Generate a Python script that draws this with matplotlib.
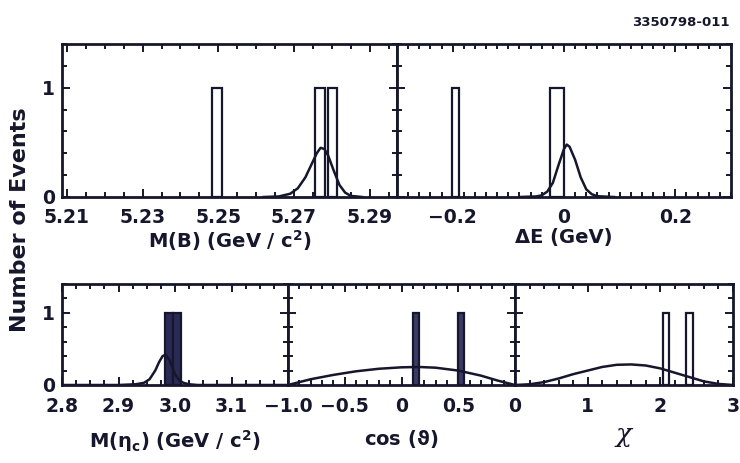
import matplotlib
matplotlib.use("Agg")
import matplotlib.pyplot as plt
from matplotlib.ticker import FixedLocator, MultipleLocator

# ---------------------------------------------------------
# data
# ---------------------------------------------------------
# M(B) panel
mb_bar_x = [5.2497, 5.2769, 5.2802]
mb_bar_h = [1, 1, 1]
mb_bar_w = [0.0025, 0.0025, 0.0025]
mb_fit_x = [5.262, 5.266, 5.269, 5.271, 5.273, 5.2745, 5.276, 5.277, 5.278, 5.279, 5.2805, 5.282, 5.2835, 5.285, 5.288]
mb_fit_y = [0.0, 0.005, 0.03, 0.08, 0.18, 0.29, 0.40, 0.45, 0.44, 0.38, 0.24, 0.11, 0.04, 0.01, 0.0]

# Delta E panel
de_bar_x = [-0.195, -0.013]
de_bar_h = [1, 1]
de_bar_w = [0.014, 0.026]
de_fit_x = [-0.08, -0.05, -0.04, -0.03, -0.02, -0.01, 0.0, 0.005, 0.01, 0.02, 0.03, 0.04, 0.05, 0.06, 0.09]
de_fit_y = [0.0, 0.005, 0.015, 0.05, 0.13, 0.29, 0.44, 0.48, 0.46, 0.34, 0.18, 0.07, 0.025, 0.007, 0.0]

# M(eta_c) panel
eta_bar_x = [2.989, 3.003]
eta_bar_h = [1, 1]
eta_bar_w = [0.014, 0.014]
eta_fit_x = [2.80, 2.90, 2.93, 2.945, 2.955, 2.965, 2.972, 2.978, 2.983, 2.99, 2.995, 3.0, 3.008, 3.015, 3.025, 3.04, 3.20]
eta_fit_y = [0.0, 0.0, 0.01, 0.03, 0.08, 0.2, 0.32, 0.40, 0.42, 0.35, 0.25, 0.15, 0.06, 0.03, 0.01, 0.0, 0.0]

# cos(theta) panel
cos_bar_x = [0.128, 0.524]
cos_bar_h = [1, 1]
cos_bar_w = [0.06, 0.06]
cos_fit_x = [-1.0, -0.9, -0.8, -0.6, -0.4, -0.2, 0.0, 0.15, 0.3, 0.5, 0.7, 0.85, 0.95, 1.0]
cos_fit_y = [0.0, 0.04, 0.08, 0.14, 0.19, 0.225, 0.245, 0.25, 0.24, 0.2, 0.13, 0.06, 0.02, 0.0]

# chi panel
chi_bar_x = [2.08, 2.40]
chi_bar_h = [1, 1]
chi_bar_w = [0.09, 0.09]
chi_fit_x = [0.0, 0.2, 0.4, 0.6, 0.8, 1.0, 1.2, 1.4, 1.6, 1.8, 2.0, 2.2, 2.4, 2.6, 2.8, 3.0]
chi_fit_y = [0.0, 0.01, 0.04, 0.09, 0.15, 0.2, 0.25, 0.28, 0.285, 0.27, 0.23, 0.17, 0.11, 0.05, 0.015, 0.0]

INK = "#16162c"
W, H = 740, 463

plt.rcParams['font.family'] = ['DejaVu Sans']
plt.rcParams['font.weight'] = 'bold'
plt.rcParams['axes.labelweight'] = 'bold'
plt.rcParams['mathtext.fontset'] = 'dejavusans'
plt.rcParams['mathtext.default'] = 'bf'

fig = plt.figure(figsize=(W / 100, H / 100), dpi=100)


def box(x0, x1, ytop, ybot):
    # pixel box -> figure fraction rectangle
    return [x0 / W, 1 - ybot / H, (x1 - x0) / W, (ybot - ytop) / H]


def style(ax, xlim, xticks, xlabels, xminor, ylab=False, xpad=8):
    ax.set_xlim(*xlim)
    ax.set_ylim(0, 1.4)
    for s in ax.spines.values():
        s.set_linewidth(2.0)
        s.set_color(INK)
    ax.xaxis.set_major_locator(FixedLocator(xticks))
    ax.set_xticklabels(xlabels)
    ax.xaxis.set_minor_locator(MultipleLocator(xminor))
    ax.yaxis.set_major_locator(FixedLocator([0, 1]))
    ax.yaxis.set_minor_locator(MultipleLocator(0.2))
    ax.tick_params(which='both', direction='in', top=True, right=True,
                   color=INK, width=1.4, labelsize=13.5, labelcolor=INK)
    ax.tick_params(which='major', length=6)
    ax.tick_params(which='minor', length=3.5)
    ax.tick_params(axis='x', which='major', pad=xpad)
    ax.tick_params(axis='y', which='major', pad=5)
    if not ylab:
        ax.set_yticklabels([])


def draw(ax, bx, bh, bw, fx, fy, fill):
    ax.bar(bx, bh, width=bw, color=fill, edgecolor=INK, linewidth=1.6, zorder=2)
    ax.plot(fx, fy, color=INK, lw=1.8, zorder=3)


# top row
ax1 = fig.add_axes(box(62, 397, 44, 197))
draw(ax1, mb_bar_x, mb_bar_h, mb_bar_w, mb_fit_x, mb_fit_y, 'white')
style(ax1, (5.2087, 5.2972), [5.21, 5.23, 5.25, 5.27, 5.29],
      ['5.21', '5.23', '5.25', '5.27', '5.29'], 0.005, ylab=True)
ax1.set_xlabel(r'M(B) (GeV / c$^2$)', fontsize=14, color=INK, labelpad=1)

ax2 = fig.add_axes(box(397, 731, 44, 197))
draw(ax2, de_bar_x, de_bar_h, de_bar_w, de_fit_x, de_fit_y, 'white')
style(ax2, (-0.3, 0.3), [-0.2, 0, 0.2], ['\u22120.2', '0', '0.2'], 0.02)
ax2.set_xlabel('\u0394E (GeV)', fontsize=14, color=INK, labelpad=1)

# bottom row
ax3 = fig.add_axes(box(62, 288, 284, 385))
draw(ax3, eta_bar_x, eta_bar_h, eta_bar_w, eta_fit_x, eta_fit_y, '#2a2a55')
style(ax3, (2.8, 3.2), [2.8, 2.9, 3.0, 3.1], ['2.8', '2.9', '3.0', '3.1'], 0.025,
      ylab=True, xpad=9)
ax3.set_xlabel(r'M($\eta_c$) (GeV / c$^2$)', fontsize=14, color=INK, labelpad=8)

ax4 = fig.add_axes(box(288, 515, 284, 385))
draw(ax4, cos_bar_x, cos_bar_h, cos_bar_w, cos_fit_x, cos_fit_y, '#3a3a66')
style(ax4, (-1.0, 1.0), [-1.0, -0.5, 0, 0.5], ['\u22121.0', '\u22120.5', '0', '0.5'], 0.1,
      xpad=9)
ax4.set_xlabel(r'cos ($\vartheta$)', fontsize=14, color=INK, labelpad=8)

ax5 = fig.add_axes(box(515, 733, 284, 385))
draw(ax5, chi_bar_x, chi_bar_h, chi_bar_w, chi_fit_x, chi_fit_y, 'white')
style(ax5, (0, 3), [0, 1, 2, 3], ['0', '1', '2', '3'], 0.2, xpad=9)
ax5.set_xlabel('\u03c7', fontsize=19, color=INK, labelpad=4,
               fontstyle='italic', fontweight='normal', family='DejaVu Serif')

fig.text(20 / W, 1 - 220 / H, 'Number of Events', rotation=90, fontsize=16,
         fontweight='bold', color=INK, ha='center', va='center')
fig.text(730 / W, 1 - 22 / H, '3350798-011', fontsize=9.5, fontweight='bold',
         color=INK, ha='right', va='center')

fig.savefig('out.png', dpi=100)
